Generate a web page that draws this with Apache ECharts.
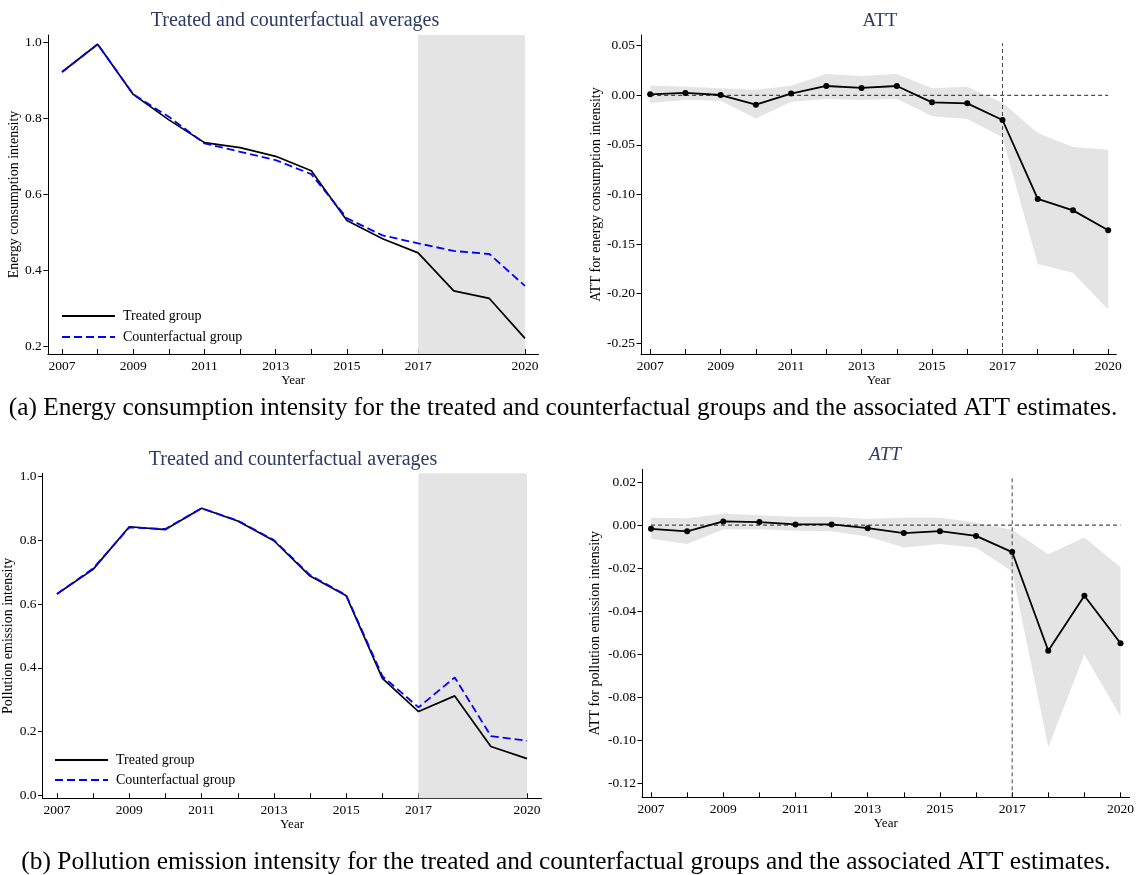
<!DOCTYPE html>
<html>
<head>
<meta charset="utf-8">
<script src="https://cdn.jsdelivr.net/npm/echarts@6/dist/echarts.min.js"></script>
<style>
  html, body { margin: 0; padding: 0; background: #fff; }
  #chart { width: 1137px; height: 875px; }
</style>
</head>
<body>
<div id="chart"></div>
<script>
// ---- data ----
const years = [2007, 2008, 2009, 2010, 2011, 2012, 2013, 2014, 2015, 2016, 2017, 2018, 2019, 2020];
const yearLabels = [2007, 2009, 2011, 2013, 2015, 2017, 2020];
const treatmentStart = 2017;
const treatmentEnd = 2020;

// Energy consumption intensity
const energyTreated        = [0.923, 0.996, 0.864, 0.797, 0.737, 0.724, 0.701, 0.663, 0.532, 0.484, 0.447, 0.347, 0.327, 0.222];
const energyCounterfactual = [0.923, 0.996, 0.864, 0.805, 0.735, 0.713, 0.691, 0.654, 0.538, 0.493, 0.472, 0.452, 0.444, 0.360];
const energyAtt   = [0.0010, 0.0024, 0.0003, -0.0094, 0.0017, 0.0094, 0.0074, 0.0094, -0.0071, -0.0081, -0.0249, -0.1045, -0.1160, -0.1360];
const energyUpper = [0.0100, 0.0087, 0.0070, 0.0057, 0.0097, 0.0215, 0.0195, 0.0215, 0.0070, 0.0087, -0.0074, -0.0380, -0.0520, -0.0550];
const energyLower = [-0.0077, -0.0047, -0.0054, -0.0235, -0.0064, -0.0037, -0.0047, -0.0034, -0.0212, -0.0239, -0.0423, -0.1700, -0.1790, -0.2160];
const energyLevelTicks = [0.2, 0.4, 0.6, 0.8, 1.0];
const energyAttTicks = [-0.25, -0.20, -0.15, -0.10, -0.05, 0.00, 0.05];

// Pollution emission intensity
const pollutionTreated        = [0.632, 0.709, 0.843, 0.834, 0.901, 0.861, 0.799, 0.688, 0.626, 0.367, 0.263, 0.312, 0.153, 0.115];
const pollutionCounterfactual = [0.632, 0.712, 0.841, 0.836, 0.901, 0.862, 0.801, 0.691, 0.628, 0.374, 0.276, 0.370, 0.186, 0.171];
const pollutionAtt   = [-0.0017, -0.0029, 0.0017, 0.0014, 0.0003, 0.0003, -0.0014, -0.0037, -0.0028, -0.0050, -0.0125, -0.0583, -0.0328, -0.0548];
const pollutionUpper = [0.0034, 0.0032, 0.0053, 0.0046, 0.0039, 0.0039, 0.0028, 0.0034, 0.0034, 0.0012, -0.0022, -0.0135, -0.0057, -0.0195];
const pollutionLower = [-0.0063, -0.0088, -0.0020, -0.0019, -0.0026, -0.0028, -0.0053, -0.0104, -0.0088, -0.0105, -0.0215, -0.1030, -0.0600, -0.0888];
const pollutionLevelTicks = [0.0, 0.2, 0.4, 0.6, 0.8, 1.0];
const pollutionAttTicks = [-0.12, -0.10, -0.08, -0.06, -0.04, -0.02, 0.00, 0.02];

const titleLevels = 'Treated and counterfactual averages';
const titleAtt = 'ATT';
const legendTreated = 'Treated group';
const legendCounterfactual = 'Counterfactual group';
const captionA = '(a) Energy consumption intensity for the treated and counterfactual groups and the associated ATT estimates.';
const captionB = '(b) Pollution emission intensity for the treated and counterfactual groups and the associated ATT estimates.';

// ---- styling helpers ----
const SERIF = '"Liberation Serif", "Times New Roman", serif';
const NAVY = '#2b3b63';
const SHADE = '#e4e4e4';

const pairs = (xs, ys) => xs.map((x, i) => [x, ys[i]]);

function xAxisFor(gridIndex, min, max) {
  return {
    type: 'value', gridIndex, min, max,
    name: 'Year', nameLocation: 'middle', nameGap: 19,
    nameTextStyle: { fontFamily: SERIF, fontSize: 13, color: '#000' },
    axisLine: { show: true, onZero: false, lineStyle: { color: '#000', width: 1 } },
    axisTick: { show: true, inside: true, length: 5, customValues: years, lineStyle: { color: '#000', width: 1 } },
    axisLabel: { customValues: yearLabels, formatter: v => String(v), fontFamily: SERIF, fontSize: 13.5, color: '#000', margin: 5 },
    splitLine: { show: false }
  };
}

function yAxisFor(gridIndex, min, max, ticks, digits, name, gap) {
  return {
    type: 'value', gridIndex, min, max,
    name, nameLocation: 'middle', nameGap: gap,
    nameTextStyle: { fontFamily: SERIF, fontSize: 14, color: '#000' },
    axisLine: { show: true, onZero: false, lineStyle: { color: '#000', width: 1 } },
    axisTick: { show: true, inside: false, length: 4.5, customValues: ticks, lineStyle: { color: '#000', width: 1 } },
    axisLabel: { customValues: ticks, formatter: v => (Math.abs(v) < 1e-9 ? 0 : v).toFixed(digits), fontFamily: SERIF, fontSize: 13.5, color: '#000', margin: 6 },
    splitLine: { show: false }
  };
}

// grey block over the post-treatment years
function shadeSeries(idx) {
  return {
    type: 'custom', xAxisIndex: idx, yAxisIndex: idx, z: 1, silent: true,
    data: [[treatmentStart, treatmentEnd]],
    renderItem(params, api) {
      const cs = params.coordSys;
      const x0 = api.coord([api.value(0), 0])[0];
      const x1 = api.coord([api.value(1), 0])[0];
      return { type: 'rect', shape: { x: x0, y: cs.y, width: x1 - x0, height: cs.height }, style: { fill: SHADE } };
    }
  };
}

// confidence band drawn as one polygon (upper edge forward, lower edge back)
function bandSeries(idx, lower, upper) {
  return {
    type: 'custom', xAxisIndex: idx, yAxisIndex: idx, z: 1, silent: true,
    data: years.map((y, i) => [y, lower[i], upper[i]]),
    encode: { x: 0, y: [1, 2] },
    renderItem(params, api) {
      if (params.dataIndexInside !== 0) return null;
      const n = params.dataInsideLength;
      const pts = [];
      for (let j = 0; j < n; j++) pts.push(api.coord([api.value(0, j), api.value(2, j)]));
      for (let j = n - 1; j >= 0; j--) pts.push(api.coord([api.value(0, j), api.value(1, j)]));
      return { type: 'polygon', shape: { points: pts }, style: { fill: SHADE } };
    }
  };
}

function levelSeries(idx, treated, cf) {
  return [
    shadeSeries(idx),
    {
      type: 'line', xAxisIndex: idx, yAxisIndex: idx, z: 3, data: pairs(years, treated),
      symbol: 'none', lineStyle: { color: '#000', width: 1.7 }, animation: false
    },
    {
      type: 'line', xAxisIndex: idx, yAxisIndex: idx, z: 4, data: pairs(years, cf),
      symbol: 'none', lineStyle: { color: '#0000ff', width: 1.8, type: [8, 4] }, animation: false
    }
  ];
}

function attSeries(idx, att, lower, upper, ymin, vTop) {
  return [
    bandSeries(idx, lower, upper),
    {
      type: 'line', xAxisIndex: idx, yAxisIndex: idx, z: 2, symbol: 'none',
      data: [[years[0], 0], [years[years.length - 1], 0]],
      lineStyle: { color: '#222', width: 1, type: [4, 3] }, animation: false
    },
    {
      type: 'line', xAxisIndex: idx, yAxisIndex: idx, z: 2, symbol: 'none',
      data: [[treatmentStart, ymin], [treatmentStart, vTop]],
      lineStyle: { color: '#444', width: 1, type: [4, 3] }, animation: false
    },
    {
      type: 'line', xAxisIndex: idx, yAxisIndex: idx, z: 5, data: pairs(years, att),
      symbol: 'circle', symbolSize: 6, itemStyle: { color: '#000' },
      lineStyle: { color: '#000', width: 1.8 }, animation: false
    }
  ];
}

function legendGraphics(x, y1, y2) {
  return [
    { type: 'line', shape: { x1: x, y1: y1, x2: x + 53, y2: y1 }, style: { stroke: '#000', lineWidth: 2 } },
    { type: 'line', shape: { x1: x, y1: y2, x2: x + 53, y2: y2 }, style: { stroke: '#0000ff', lineWidth: 2, lineDash: [8, 4] } },
    { type: 'text', x: x + 61, y: y1, style: { text: legendTreated, font: '14px ' + SERIF, fill: '#000', verticalAlign: 'middle' } },
    { type: 'text', x: x + 61, y: y2, style: { text: legendCounterfactual, font: '14px ' + SERIF, fill: '#000', verticalAlign: 'middle' } }
  ];
}

function centeredText(text, x, y, size, color, italic) {
  return {
    type: 'text', x, y,
    style: { text, font: (italic ? 'italic ' : '') + size + 'px ' + SERIF, fill: color, align: 'center', verticalAlign: 'middle' }
  };
}

const chart = echarts.init(document.getElementById('chart'), null, { renderer: 'canvas' });

chart.setOption({
  animation: false,
  backgroundColor: '#fff',
  grid: [
    { left: 47.8, top: 35, width: 490.7, height: 319 },
    { left: 641, top: 35, width: 475.3, height: 319 },
    { left: 42.5, top: 473.3, width: 499, height: 325 },
    { left: 642, top: 469.3, width: 488.7, height: 328 }
  ],
  xAxis: [
    xAxisFor(0, 2006.6, 2020.38),
    xAxisFor(1, 2006.74, 2020.23),
    xAxisFor(2, 2006.6, 2020.4),
    xAxisFor(3, 2006.75, 2020.25)
  ],
  yAxis: [
    yAxisFor(0, 0.1808, 1.0203, energyLevelTicks, 1, 'Energy consumption intensity', 24),
    yAxisFor(1, -0.2608, 0.0608, energyAttTicks, 2, 'ATT for energy consumption intensity', 37),
    yAxisFor(2, -0.0094, 1.0107, pollutionLevelTicks, 1, 'Pollution emission intensity', 26),
    yAxisFor(3, -0.1263, 0.0259, pollutionAttTicks, 2, 'ATT for pollution emission intensity', 40)
  ],
  series: [
    ...levelSeries(0, energyTreated, energyCounterfactual),
    ...attSeries(1, energyAtt, energyLower, energyUpper, -0.2608, 0.0524),
    ...levelSeries(2, pollutionTreated, pollutionCounterfactual),
    ...attSeries(3, pollutionAtt, pollutionLower, pollutionUpper, -0.1263, 0.0223)
  ],
  graphic: [
    centeredText(titleLevels, 295, 21, 20, NAVY, false),
    centeredText(titleAtt, 880, 21, 19, NAVY, false),
    centeredText(titleLevels, 293, 460, 20, NAVY, false),
    centeredText(titleAtt, 885, 455, 19, NAVY, true),
    ...legendGraphics(62, 316, 337),
    ...legendGraphics(55, 760, 780),
    centeredText(captionA, 563, 408, 25.4, '#000', false),
    centeredText(captionB, 566, 862, 25.4, '#000', false)
  ]
});
</script>
</body>
</html>
